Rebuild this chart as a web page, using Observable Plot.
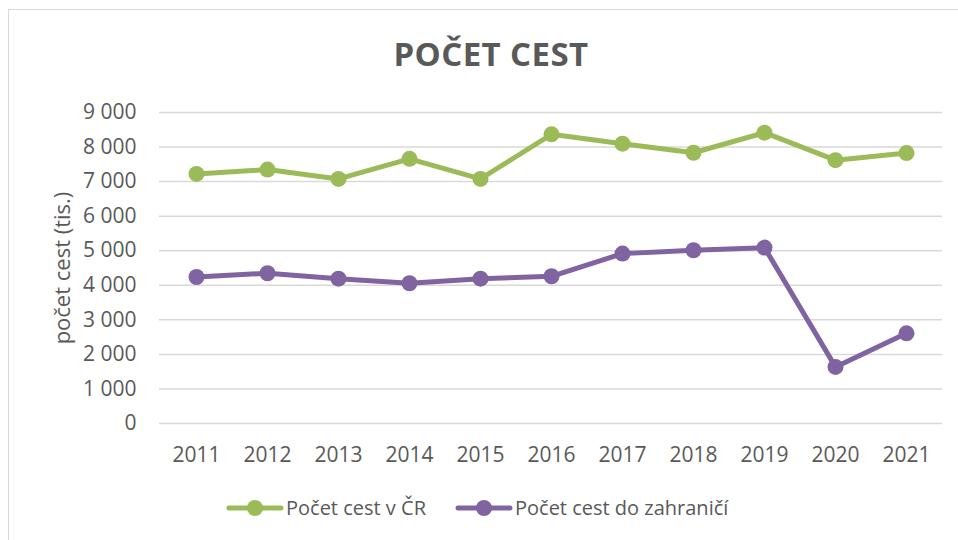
<!DOCTYPE html>
<html>
<head>
<meta charset="utf-8">
<script src="https://cdn.jsdelivr.net/npm/d3@7"></script>
<script src="https://cdn.jsdelivr.net/npm/@observablehq/plot@0.6"></script>
<style>
  html, body { margin: 0; padding: 0; background: #fff; }
  body { width: 958px; height: 540px; position: relative; overflow: hidden; font-family: "Open Sans", sans-serif; color: #595959; }
  #frame { position: absolute; left: 8px; top: 9px; width: 970px; height: 560px; border: 1.5px solid #d9d9d9; box-sizing: border-box; }
  #title { position: absolute; left: 12px; width: 958px; top: 32px; text-align: center; font-size: 33px; font-weight: 700; color: #595959; line-height: 44px; letter-spacing: 0.4px; }
  #chart { position: absolute; left: 0; top: 90px; }
  #legend { position: absolute; left: 0; top: 490px; width: 958px; height: 40px; }
</style>
</head>
<body>
<div id="frame"></div>
<div id="title">POČET CEST</div>
<div id="chart"></div>
<svg id="legend" width="958" height="40"></svg>
<script>
const years = ["2011","2012","2013","2014","2015","2016","2017","2018","2019","2020","2021"];
const domesticTrips = [7223, 7348, 7078, 7658, 7078, 8368, 8098, 7835, 8417, 7620, 7826];
const abroadTrips   = [4240, 4348, 4191, 4058, 4191, 4261, 4916, 5014, 5090, 1638, 2609];
const seriesNames = ["Počet cest v ČR", "Počet cest do zahraničí"];
const seriesColors = ["#9BBB59", "#8064A2"];
const yTicks = [0, 1000, 2000, 3000, 4000, 5000, 6000, 7000, 8000, 9000];
const yLabel = "počet cest (tis.)";

const data = [];
years.forEach((y, i) => {
  data.push({year: y, value: domesticTrips[i], series: seriesNames[0]});
  data.push({year: y, value: abroadTrips[i], series: seriesNames[1]});
});

const fmt = d3.formatLocale({decimal: ",", thousands: "\u00a0", grouping: [3], currency: ["", ""]}).format(",");

const chart = Plot.plot({
  width: 958,
  height: 380,
  marginLeft: 159,
  marginRight: 16,
  marginTop: 22,
  marginBottom: 47,
  style: {fontFamily: "Open Sans, sans-serif", fontSize: "21px", color: "#595959", background: "transparent"},
  x: {type: "point", domain: years, padding: 0.5, label: null},
  y: {domain: [0, 9000], ticks: yTicks, label: null},
  color: {domain: seriesNames, range: seriesColors},
  marks: [
    Plot.ruleY(yTicks, {stroke: "#d9d9d9", strokeWidth: 1.5}),
    Plot.axisY({ticks: yTicks, tickSize: 0, tickPadding: 23, tickFormat: fmt, fill: "#595959", fontSize: 21, label: null}),
    Plot.axisX({tickSize: 0, tickPadding: 24, fill: "#595959", fontSize: 21, label: null}),
    Plot.line(data, {x: "year", y: "value", z: "series", stroke: "series", strokeWidth: 5, strokeLinejoin: "round"}),
    Plot.dot(data, {x: "year", y: "value", fill: "series", r: 8}),
    Plot.text([yLabel], {frameAnchor: "left", textAnchor: "middle", dx: -97, dy: 0, rotate: -90, fontSize: 22, fill: "#595959", text: d => d})
  ]
});
document.getElementById("chart").appendChild(chart);

// legend
const leg = d3.select("#legend");
const items = [{x: 229, name: seriesNames[0], color: seriesColors[0]}, {x: 458, name: seriesNames[1], color: seriesColors[1]}];
items.forEach(it => {
  leg.append("line").attr("x1", it.x).attr("x2", it.x + 52).attr("y1", 18).attr("y2", 18)
    .attr("stroke", it.color).attr("stroke-width", 5).attr("stroke-linecap", "round");
  leg.append("circle").attr("cx", it.x + 26).attr("cy", 18).attr("r", 8).attr("fill", it.color);
  leg.append("text").attr("x", it.x + 57).attr("y", 18).attr("dy", "0.35em")
    .attr("font-family", "Open Sans, sans-serif").attr("font-size", 20).attr("fill", "#595959").text(it.name);
});
</script>
</body>
</html>
